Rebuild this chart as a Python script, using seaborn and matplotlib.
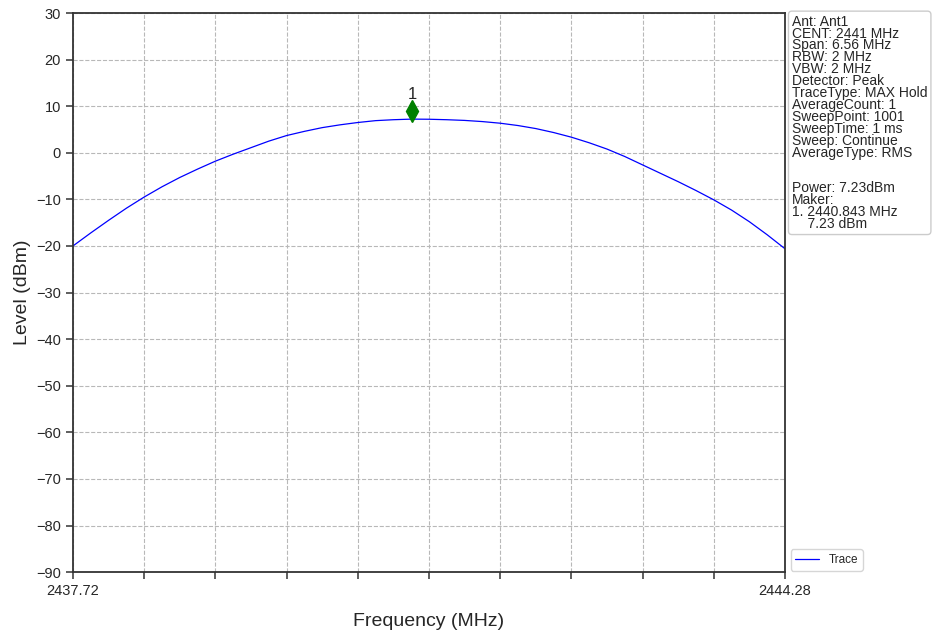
import numpy as np
import matplotlib
matplotlib.use("Agg")
import matplotlib.pyplot as plt
import matplotlib.transforms as mtransforms
import seaborn as sns
import pandas as pd

# trace (MHz, dBm)
freq_mhz = [2437.720, 2437.884, 2438.048, 2438.212, 2438.376, 2438.540,
            2438.704, 2438.868, 2439.032, 2439.196, 2439.360, 2439.524,
            2439.688, 2439.852, 2440.016, 2440.180, 2440.344, 2440.508,
            2440.672, 2440.843, 2441.000, 2441.164, 2441.328, 2441.492,
            2441.656, 2441.820, 2441.984, 2442.148, 2442.312, 2442.476,
            2442.640, 2442.804, 2442.968, 2443.132, 2443.296, 2443.460,
            2443.624, 2443.788, 2443.952, 2444.116, 2444.280]
level_dbm = [-20.0, -17.2, -14.5, -11.9, -9.5, -7.3,
             -5.3, -3.5, -1.8, -0.3, 1.1, 2.5,
             3.7, 4.6, 5.4, 6.0, 6.5, 6.9,
             7.1, 7.23, 7.2, 7.1, 6.95, 6.7,
             6.35, 5.85, 5.2, 4.35, 3.35, 2.15,
             0.8, -0.8, -2.6, -4.4, -6.2, -8.1,
             -10.1, -12.3, -14.8, -17.6, -20.6]

marker_freq = 2440.843
marker_level = 7.23
marker_name = "1"

info_lines = [
    "Ant: Ant1",
    "CENT: 2441 MHz",
    "Span: 6.56 MHz",
    "RBW: 2 MHz",
    "VBW: 2 MHz",
    "Detector: Peak",
    "TraceType: MAX Hold",
    "AverageCount: 1",
    "SweepPoint: 1001",
    "SweepTime: 1 ms",
    "Sweep: Continue",
    "AverageType: RMS",
    "",
    "",
    "Power: 7.23dBm",
    "Maker:",
    "1. 2440.843 MHz",
    "    7.23 dBm",
]

f_start, f_stop = 2437.72, 2444.28
y_min, y_max = -90, 30

sns.set_style("ticks")
plt.rcParams["font.family"] = ["Liberation Sans", "DejaVu Sans"]

df = pd.DataFrame({"Frequency": freq_mhz, "Level": level_dbm})

fig = plt.figure(figsize=(9.35, 6.35), dpi=100)
ax = fig.add_axes([0.078, 0.099, 0.7616, 0.8805])

sns.lineplot(data=df, x="Frequency", y="Level", ax=ax, color="blue",
             linewidth=0.9, label="Trace", sort=False)

# marker sits just above the peak, with its number on top
trans_m = mtransforms.offset_copy(ax.transData, fig=fig, y=5.5, units="points")
ax.plot([marker_freq], [marker_level], marker="d", color="green",
        markersize=11, linestyle="none", transform=trans_m)
trans_t = mtransforms.offset_copy(ax.transData, fig=fig, y=12, units="points")
ax.text(marker_freq, marker_level, marker_name, transform=trans_t,
        ha="center", va="bottom", fontsize=12)

ax.set_xlim(f_start, f_stop)
ax.set_ylim(y_min, y_max)
xt = np.linspace(f_start, f_stop, 11)
ax.set_xticks(xt)
ax.set_xticklabels([f"{f_start:.2f}"] + [""] * 9 + [f"{f_stop:.2f}"])
ax.set_yticks(np.arange(y_min, y_max + 1, 10))
ax.tick_params(labelsize=10.5, length=5, width=1.1, color="#333333")
ax.grid(True, linestyle="--", color="#b8b8b8", linewidth=0.8)
for s in ax.spines.values():
    s.set_visible(True)
    s.set_color("#333333")
    s.set_linewidth(1.3)

ax.set_xlabel("Frequency (MHz)", fontsize=14, labelpad=11)
ax.set_ylabel("Level (dBm)", fontsize=14, labelpad=4)

ax.legend(loc="lower left", bbox_to_anchor=(1.003, -0.004), fontsize=8.5,
          frameon=True, borderaxespad=0.3)

fig.text(0.847, 0.977, "\n".join(info_lines), fontsize=10, va="top",
         ha="left", linespacing=0.81,
         bbox=dict(boxstyle="round,pad=0.25", facecolor="white",
                   edgecolor="#cccccc", linewidth=1))

fig.savefig("out.png", dpi=100)
